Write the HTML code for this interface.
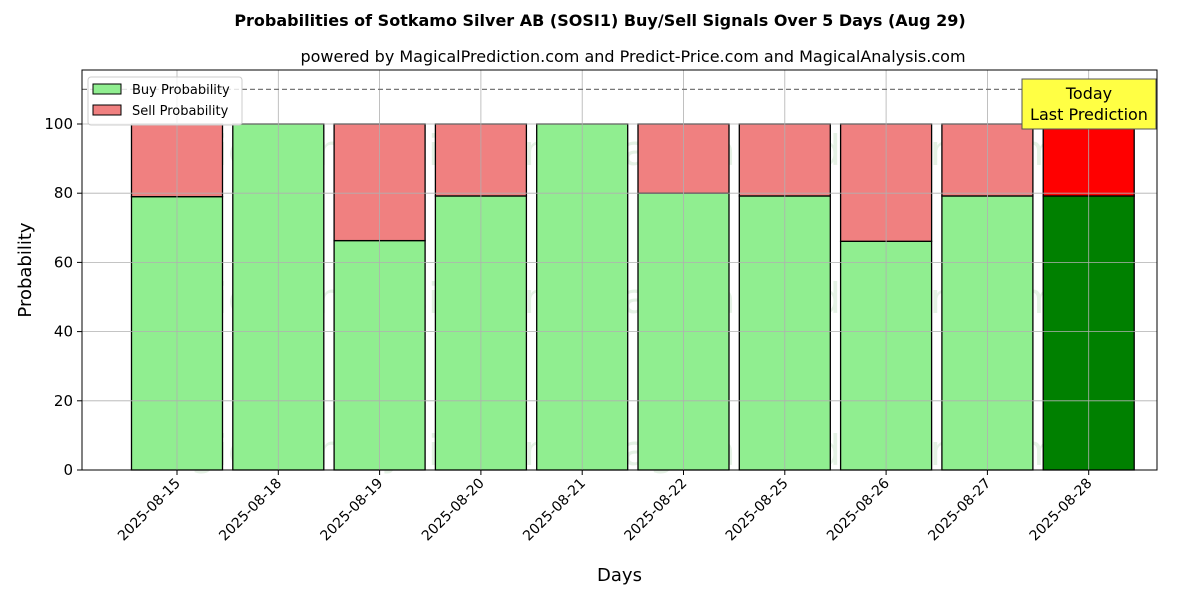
<!DOCTYPE html>
<html><head><meta charset="utf-8"><style>body{margin:0;background:#fff}svg text{font-family:"DejaVu Sans","Liberation Sans",sans-serif}</style></head>
<body>
<svg id="c" width="1200" height="600" xmlns="http://www.w3.org/2000/svg">
<text x="600" y="26" text-anchor="middle" font-size="16" font-weight="bold">Probabilities of Sotkamo Silver AB (SOSI1) Buy/Sell Signals Over 5 Days (Aug 29)</text>
<text x="633" y="62" text-anchor="middle" font-size="16">powered by MagicalPrediction.com and Predict-Price.com and MagicalAnalysis.com</text>
<g id="plot"></g>
</svg>
<script>
const categories=["2025-08-15","2025-08-18","2025-08-19","2025-08-20","2025-08-21","2025-08-22","2025-08-25","2025-08-26","2025-08-27","2025-08-28"];
const buyValues=[79.0,100,66.3,79.2,100,80,79.2,66.1,79.2,79.2];
const sellValues=[21.0,0,33.7,20.8,0,20,20.8,33.9,20.8,20.8];
const yTicks=[0,20,40,60,80,100];
const NS="http://www.w3.org/2000/svg",g=document.getElementById('plot');
const L=82,R=1157,T=70,B=470;
const y=v=>B-v*3.46;
const x0=177,step=101.3;
const x=i=>x0+i*step;
const bw=91;
function el(t,a,p){const e=document.createElementNS(NS,t);for(const k in a)e.setAttribute(k,a[k]);(p||g).appendChild(e);return e;}
// watermarks
[[150],[298],[450]].forEach(([yy])=>{
 const a=el('text',{x:346,y:yy+15,'text-anchor':'middle','font-size':42,fill:'rgba(0,128,0,0.1)'});a.textContent='MagicalAnalysis.com';
 
 const b=el('text',{x:823,y:yy+15,'text-anchor':'middle','font-size':42,fill:'rgba(0,128,0,0.1)'});b.textContent='MagicalPrediction.com';
 
});
categories.forEach((c,i)=>{
 const last=i===categories.length-1;
 const b=el('rect',{x:x(i)-bw/2,y:y(buyValues[i]),width:bw,height:y(0)-y(buyValues[i]),fill:last?'#008000':'#90ee90',stroke:'#000','stroke-width':1.3});
 
 if(sellValues[i]>0){const s=el('rect',{x:x(i)-bw/2,y:y(buyValues[i]+sellValues[i]),width:bw,height:y(buyValues[i])-y(buyValues[i]+sellValues[i]),fill:last?'#ff0000':'#f08080',stroke:'#000','stroke-width':1.3});
 }
 const gl=el('line',{x1:x(i),x2:x(i),y1:T,y2:B,stroke:'#b0b0b0','stroke-width':0.8});
 
 el('line',{x1:x(i),x2:x(i),y1:B,y2:B+5,stroke:'#000'});
 const t=el('text',{transform:`translate(${x(i)+4},${B+14}) rotate(-45)`,'text-anchor':'end','font-size':14});t.textContent=c;
 
});
yTicks.forEach(v=>{
 const gl=el('line',{x1:L,x2:R,y1:y(v),y2:y(v),stroke:'#b0b0b0','stroke-width':0.8});
 
 el('line',{x1:L-5,x2:L,y1:y(v),y2:y(v),stroke:'#000'});
 const t=el('text',{x:L-9,y:y(v)+5,'text-anchor':'end','font-size':15});t.textContent=v;
 
});
const d=el('line',{x1:L,x2:R,y1:y(110),y2:y(110),stroke:'#777','stroke-dasharray':'5,3','stroke-width':1.2});

const fr=el('rect',{x:L,y:T,width:R-L,height:B-T,fill:'none',stroke:'#000','stroke-width':1});

const yl=el('text',{transform:`translate(31,${(T+B)/2}) rotate(-90)`,'text-anchor':'middle','font-size':18});yl.textContent='Probability';

const xl=el('text',{x:(L+R)/2,y:581,'text-anchor':'middle','font-size':18});xl.textContent='Days';

// today box
const tb=el('rect',{x:1022,y:79,width:134,height:50,fill:'#ffff44',stroke:'#555','stroke-width':1});

const t1=el('text',{x:1089,y:99,'text-anchor':'middle','font-size':16});t1.textContent='Today';

const t2=el('text',{x:1089,y:120,'text-anchor':'middle','font-size':16});t2.textContent='Last Prediction';

// legend
const lg=el('rect',{x:88,y:77,width:154,height:48,fill:'#fff','fill-opacity':0.8,stroke:'#ccc',rx:3});

[['#90ee90','Buy Probability',84],['#f08080','Sell Probability',105]].forEach(([c,n,yy])=>{
 const r=el('rect',{x:93,y:yy,width:28,height:10,fill:c,stroke:'#000'});
 
 const t=el('text',{x:132,y:yy+10,'font-size':13});t.textContent=n;
 
});
</script>
</body></html>
